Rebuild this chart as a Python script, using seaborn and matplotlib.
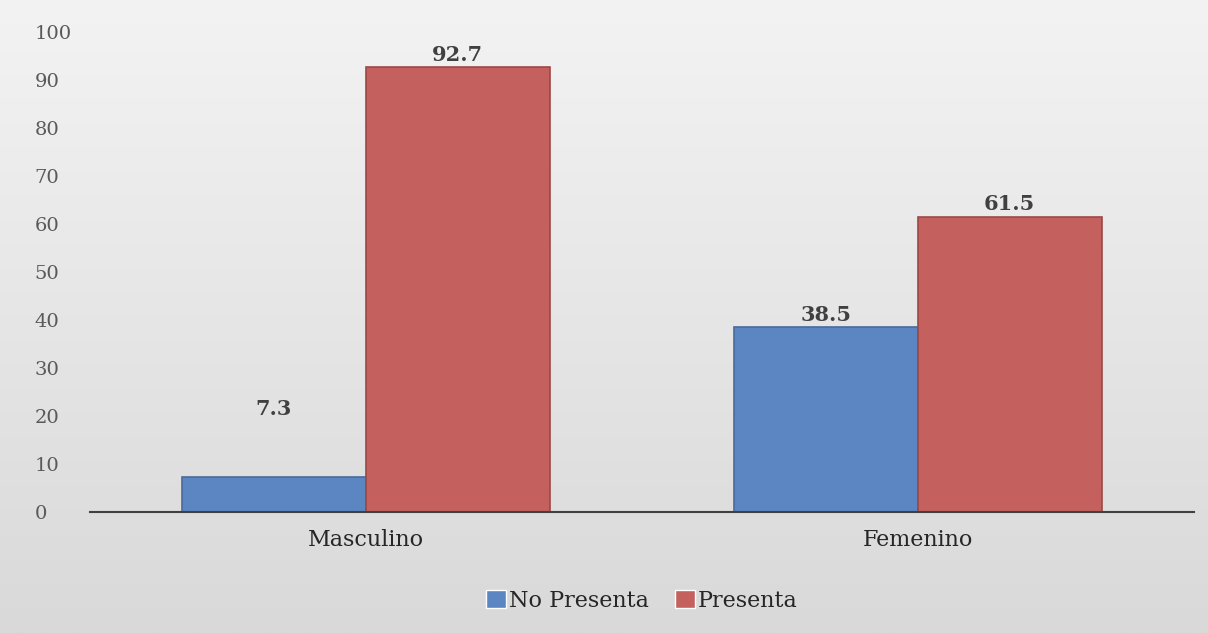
import numpy as np
import pandas as pd
import matplotlib
matplotlib.use("Agg")
import matplotlib.pyplot as plt
import seaborn as sns
from matplotlib.colors import LinearSegmentedColormap
from matplotlib.transforms import ScaledTranslation

categories = ["Masculino", "Femenino"]
series_names = ["No Presenta", "Presenta"]
no_presenta = [7.3, 38.5]
presenta = [92.7, 61.5]
y_ticks = [0, 10, 20, 30, 40, 50, 60, 70, 80, 90, 100]

df = pd.DataFrame({
    "Sexo": categories * 2,
    "Serie": [series_names[0]] * 2 + [series_names[1]] * 2,
    "Valor": no_presenta + presenta,
})

sns.set_theme(style="white")
plt.rcParams["font.family"] = ["DejaVu Serif"]

fig = plt.figure(figsize=(12.08, 6.33), dpi=100)
bg = fig.add_axes([0, 0, 1, 1], zorder=-10)
grad = np.linspace(0, 1, 256).reshape(-1, 1)
cmap = LinearSegmentedColormap.from_list("bg", ["#f3f3f3", "#d9d9d9"])
bg.imshow(grad, aspect="auto", cmap=cmap, extent=[0, 1, 0, 1], origin="upper")
bg.axis("off")

ax = fig.add_axes([0.0745, 0.191, 0.9135, 0.758])
ax.set_facecolor("none")
palette = {"No Presenta": "#5b86c2", "Presenta": "#c4605d"}
sns.barplot(data=df, x="Sexo", y="Valor", hue="Serie", order=categories,
            hue_order=series_names, palette=palette, width=0.667,
            saturation=1, ax=ax, legend=True)

edge = {"No Presenta": "#4a6b9c", "Presenta": "#9c4846"}
for cont, name in zip(ax.containers, series_names):
    for p in cont:
        p.set_edgecolor(edge[name])
        p.set_linewidth(1.2)
    texts = ax.bar_label(cont, fmt="%.1f", padding=2, fontsize=15,
                         fontweight="bold", color="#404040")
    if name == "No Presenta":
        # the small Masculino label sits higher in the original
        texts[0].xyann = (0, 42)

ax.set_xlim(-0.5, 1.5)
ax.set_ylim(0, 100)
ax.set_yticks(y_ticks)
ax.set_xlabel("")
ax.set_ylabel("")
for s in ["top", "right", "left"]:
    ax.spines[s].set_visible(False)
ax.spines["bottom"].set_color("#404040")
ax.spines["bottom"].set_linewidth(1.5)
ax.tick_params(axis="y", length=0, labelsize=14, labelcolor="#595959", pad=55)
off = ScaledTranslation(21 / 100, 0, fig.dpi_scale_trans)
for lbl in ax.get_yticklabels():
    lbl.set_horizontalalignment("left")
    lbl.set_transform(lbl.get_transform() + off)
ax.tick_params(axis="x", length=0, labelsize=16, labelcolor="#262626", pad=12)

handles, labels = ax.get_legend_handles_labels()
ax.legend(handles, labels, loc="upper center", bbox_to_anchor=(0.5, -0.12),
          ncol=2, frameon=False, fontsize=16, handlelength=0.9, handleheight=0.9,
          handletextpad=0.1, columnspacing=1.2, labelcolor="#262626")

fig.savefig("out.png", dpi=100)
